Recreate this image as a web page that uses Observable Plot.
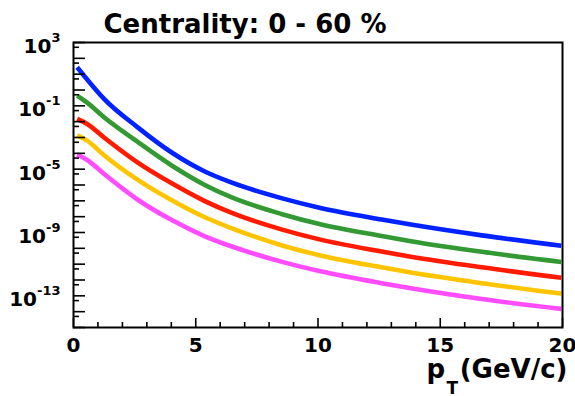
<!DOCTYPE html>
<html>
<head>
<meta charset="utf-8">
<script src="https://cdn.jsdelivr.net/npm/d3@7"></script>
<script src="https://cdn.jsdelivr.net/npm/@observablehq/plot@0.6"></script>
<style>
  html, body { margin: 0; padding: 0; background: #fff; }
  #chart { width: 575px; height: 396px; }
</style>
</head>
<body>
<div id="chart"></div>
<script>
// ---- data ----
const pT = [0.15, 0.56, 1.25, 2.6, 4.0, 5.35, 6.45, 8.5, 10.1, 12.6, 13.8, 16.7, 19.95];
const seriesNames = ["s1", "s2", "s3", "s4", "s5"];
const seriesColors = ["#0022ff", "#339933", "#ff1a00", "#ffc400", "#ff4cff"];
const s1 = [2.75e1, 4.6e0, 2.75e-1, 4.7e-3, 1.17e-4, 7.4e-6, 1.45e-6, 1.48e-7, 3.55e-8, 6.6e-9, 3.16e-9, 6.6e-10, 1.45e-10];
const s2 = [4.47e-1, 1.58e-1, 1.9e-2, 5.6e-4, 1.78e-5, 1.05e-6, 1.7e-7, 1.48e-8, 3.3e-9, 6.0e-10, 2.8e-10, 6.0e-11, 1.38e-11];
const s3 = [1.51e-2, 7.2e-3, 1.0e-3, 2.8e-5, 1.32e-6, 1.0e-7, 1.8e-8, 1.58e-9, 3.55e-10, 6.3e-11, 2.95e-11, 6.3e-12, 1.38e-12];
const s4 = [1.35e-3, 6.3e-4, 7.6e-5, 2.24e-6, 1.12e-7, 9.5e-9, 1.9e-9, 1.58e-10, 3.55e-11, 6.3e-12, 2.95e-12, 6.3e-13, 1.38e-13];
const s5 = [8.5e-5, 3.8e-5, 5.0e-6, 1.26e-7, 6.3e-9, 6.0e-10, 1.35e-10, 1.45e-11, 3.55e-12, 6.3e-13, 3.0e-13, 6.3e-14, 1.5e-14];
const xMajorTicks = [0, 5, 10, 15, 20];
const xMinorTicks = [1, 2, 3, 4, 6, 7, 8, 9, 11, 12, 13, 14, 16, 17, 18, 19];
const yMajorTicks = [1e3, 1e2, 1e1, 1e0, 1e-1, 1e-2, 1e-3, 1e-4, 1e-5, 1e-6, 1e-7, 1e-8, 1e-9, 1e-10, 1e-11, 1e-12, 1e-13, 1e-14, 1e-15];
const yMinorTicks = [5e2, 5e1, 5e0, 5e-1, 5e-2, 5e-3, 5e-4, 5e-5, 5e-6, 5e-7, 5e-8, 5e-9, 5e-10, 5e-11, 5e-12, 5e-13, 5e-14, 5e-15];
const yLabelTicks = [1e3, 1e-1, 1e-5, 1e-9, 1e-13];
const title = "Centrality: 0 - 60 %";

const allSeries = [s1, s2, s3, s4, s5];
const rows = [];
allSeries.forEach((vals, i) => vals.forEach((v, j) => rows.push({series: seriesNames[i], pT: pT[j], v})));

const font = "DejaVu Sans";
const chart = Plot.plot({
  width: 575,
  height: 396,
  marginLeft: 73,
  marginRight: 13,
  marginTop: 42,
  marginBottom: 69,
  style: {fontFamily: font, fontWeight: "bold", background: "#fff", color: "#000", overflow: "visible"},
  x: {domain: [0, 20]},
  y: {type: "log", domain: [1e-15, 1e3]},
  color: {domain: seriesNames, range: seriesColors},
  marks: [
    Plot.line(rows, {x: "pT", y: "v", z: "series", stroke: "series", strokeWidth: 4.6, curve: "monotone-x", strokeLinecap: "butt"}),
    // y ticks (inward)
    Plot.axisY({ticks: yMajorTicks, tickSize: -12, tickFormat: () => "", label: null, strokeWidth: 1.6}),
    Plot.axisY({ticks: yMinorTicks, tickSize: -6, tickFormat: () => "", label: null, strokeWidth: 1.6}),
    Plot.axisY({ticks: yLabelTicks, tickSize: 0, tickPadding: 13, fontSize: 20, label: null,
      tickFormat: d => "10^" + Math.round(Math.log10(d))}),
    // x ticks (inward)
    Plot.axisX({ticks: xMajorTicks, tickSize: -9, tickFormat: () => "", label: null, strokeWidth: 1.6}),
    Plot.axisX({ticks: xMinorTicks, tickSize: -5, tickFormat: () => "", label: null, strokeWidth: 1.6}),
    Plot.axisX({ticks: xMajorTicks, tickSize: 0, tickPadding: 10, fontSize: 20, label: null, tickFormat: d => String(d)}),
    Plot.frame({stroke: "#000", strokeWidth: 2}),
    // title
    Plot.text([title], {frameAnchor: "top-left", textAnchor: "start", lineAnchor: "bottom", dx: 30, dy: -10, fontSize: 26, fontWeight: "bold", fill: "#000"}),
    // x-axis label p_T(GeV/c)
    Plot.text(["p"], {frameAnchor: "bottom-right", textAnchor: "start", lineAnchor: "bottom", dx: -136, dy: 50, fontSize: 26, fontWeight: "bold", fill: "#000"}),
    Plot.text(["T"], {frameAnchor: "bottom-right", textAnchor: "start", lineAnchor: "bottom", dx: -116, dy: 66, fontSize: 17, fontWeight: "bold", fill: "#000"}),
    Plot.text(["(GeV/c)"], {frameAnchor: "bottom-right", textAnchor: "end", lineAnchor: "bottom", dx: 5, dy: 50, fontSize: 26, fontWeight: "bold", fill: "#000"})
  ]
});
document.getElementById("chart").appendChild(chart);

// superscript exponents on the y tick labels
d3.select(chart).selectAll("g[aria-label='y-axis tick label'] text").each(function() {
  const t = this.textContent;
  if (!t.startsWith("10^")) return;
  const exp = t.slice(3);
  const sel = d3.select(this);
  sel.text(null);
  sel.append("tspan").attr("dy", "4").text("10");
  sel.append("tspan").attr("dy", "-11").attr("font-size", 13).text(exp);
});
</script>
</body>
</html>
